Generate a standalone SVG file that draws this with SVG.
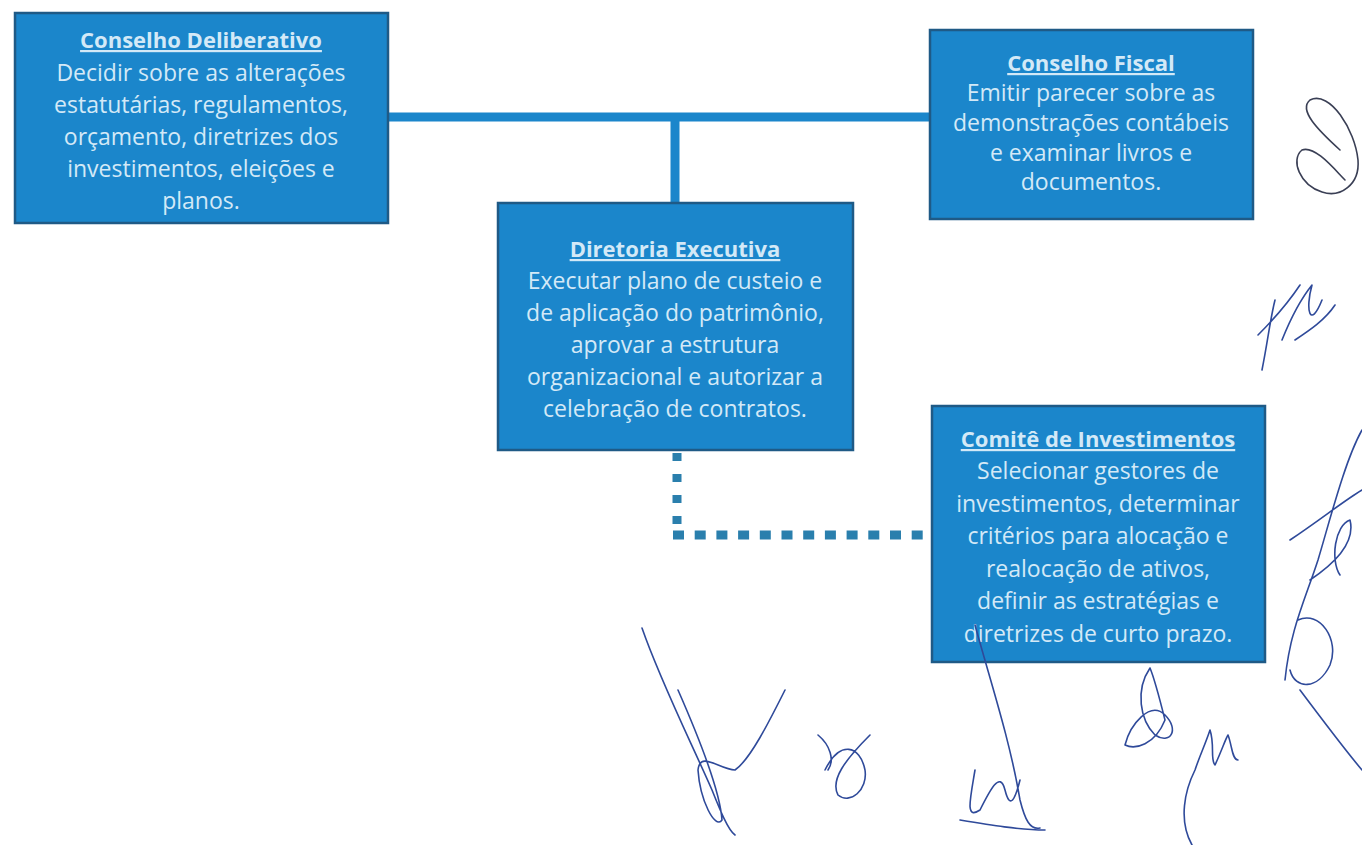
<svg xmlns="http://www.w3.org/2000/svg" width="1362" height="845" viewBox="0 0 1362 845">
<style>
.box{fill:#1b86cb;stroke:#1f5a86;stroke-width:2.5}
.t{font-family:"Open Sans","Liberation Sans",sans-serif;font-size:23px;fill:#d3e9f7;text-anchor:middle}
.h{font-size:22px;font-weight:bold;text-decoration:underline}
.solid{stroke:#1b86cb;stroke-width:9;fill:none}
.dot{stroke:#2a7fad;stroke-width:9;fill:none}
.sig{fill:none;stroke:#2f4a9a;stroke-width:1.6;stroke-linecap:round;stroke-linejoin:round}
.sigd{fill:none;stroke:#3a3f55;stroke-width:1.6;stroke-linecap:round}
</style>
<rect width="1362" height="845" fill="#ffffff"/>
<g id="connectors">
<line class="solid" x1="388" y1="117" x2="930" y2="117"/>
<line class="solid" x1="675" y1="117" x2="675" y2="203"/>
<line class="dot" x1="677" y1="451" x2="677" y2="526" stroke-dasharray="8 13" stroke-dashoffset="-2"/>
<line class="dot" x1="673" y1="535" x2="925" y2="535" stroke-dasharray="11 10.7"/>
</g>
<g id="conselho-deliberativo">
<rect class="box" x="15" y="13" width="373" height="210"/>
<text class="t h" x="201" y="48">Conselho Deliberativo</text>
<text class="t" x="201" y="81">Decidir sobre as alterações</text>
<text class="t" x="201" y="113">estatutárias, regulamentos,</text>
<text class="t" x="201" y="145">orçamento, diretrizes dos</text>
<text class="t" x="201" y="177">investimentos, eleições e</text>
<text class="t" x="201" y="209">planos.</text>
</g>
<g id="conselho-fiscal">
<rect class="box" x="930" y="30" width="323" height="189"/>
<text class="t h" x="1091" y="71">Conselho Fiscal</text>
<text class="t" x="1091" y="101">Emitir parecer sobre as</text>
<text class="t" x="1091" y="131">demonstrações contábeis</text>
<text class="t" x="1091" y="161">e examinar livros e</text>
<text class="t" x="1091" y="190">documentos.</text>
</g>
<g id="diretoria-executiva">
<rect class="box" x="498" y="203" width="355" height="247"/>
<text class="t h" x="675" y="257">Diretoria Executiva</text>
<text class="t" x="675" y="289">Executar plano de custeio e</text>
<text class="t" x="675" y="321">de aplicação do patrimônio,</text>
<text class="t" x="675" y="353">aprovar a estrutura</text>
<text class="t" x="675" y="385">organizacional e autorizar a</text>
<text class="t" x="675" y="417">celebração de contratos.</text>
</g>
<g id="comite-investimentos">
<rect class="box" x="932" y="406" width="333" height="256"/>
<text class="t h" x="1098" y="447">Comitê de Investimentos</text>
<text class="t" x="1098" y="479">Selecionar gestores de</text>
<text class="t" x="1098" y="512">investimentos, determinar</text>
<text class="t" x="1098" y="544">critérios para alocação e</text>
<text class="t" x="1098" y="577">realocação de ativos,</text>
<text class="t" x="1098" y="609">definir as estratégias e</text>
<text class="t" x="1098" y="642">diretrizes de curto prazo.</text>
</g>
<g id="signatures">
<path class="sigd" d="M1310,100 C1330,90 1355,130 1358,160 C1360,185 1340,198 1322,192 C1300,185 1290,160 1302,150 C1315,145 1335,170 1345,180 M1310,100 C1298,110 1318,130 1340,150"/>
<path class="sig" d="M1262,370 C1268,340 1270,320 1275,300 M1258,335 C1275,318 1290,300 1300,285 M1282,340 C1290,320 1300,300 1312,285 C1305,310 1310,330 1322,300 M1295,340 C1310,330 1325,320 1335,305"/>
<path class="sig" d="M1362,430 C1345,460 1330,520 1318,560 C1305,600 1290,630 1285,680 M1290,540 C1320,520 1345,500 1362,490 M1310,580 C1340,560 1355,540 1350,520 C1335,525 1330,560 1340,575 M1298,620 C1320,610 1340,640 1330,665 C1318,690 1295,690 1290,670 M1300,690 C1330,730 1345,750 1362,770"/>
<path class="sig" d="M642,628 C660,680 690,740 712,790 C720,810 728,830 735,835 M678,690 C700,740 720,790 722,820 C715,830 700,800 698,770 C700,750 720,770 735,770 C750,760 770,720 785,690"/>
<path class="sig" d="M818,735 C830,745 835,760 828,770 M825,770 C840,740 860,745 865,770 C868,790 850,805 838,795 C830,780 845,760 870,735"/>
<path class="sig" d="M975,625 C990,680 1010,740 1020,800 C1025,820 1030,830 1040,828 M975,770 C970,800 965,820 980,810 C990,790 1000,770 1005,790 C1010,810 1015,800 1020,780 M960,820 C990,825 1020,830 1045,830"/>
<path class="sig" d="M1150,668 C1135,690 1140,720 1155,735 C1170,745 1180,730 1165,715 C1150,700 1130,725 1125,745 C1135,750 1155,745 1165,720 C1160,700 1155,680 1150,668"/>
<path class="sig" d="M1192,845 C1178,820 1185,790 1195,770 C1200,755 1205,745 1210,730 C1215,745 1210,760 1215,765 C1222,750 1225,740 1228,735 C1232,745 1232,760 1238,760"/>
</g>
</svg>
